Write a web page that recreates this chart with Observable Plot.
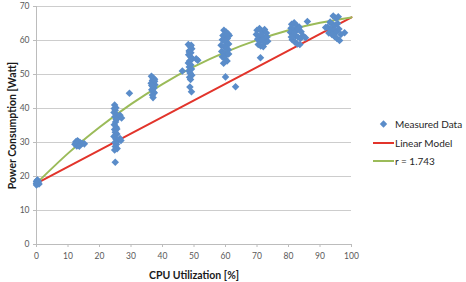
<!DOCTYPE html>
<html>
<head>
<meta charset="utf-8">
<script src="https://cdn.jsdelivr.net/npm/d3@7"></script>
<script src="https://cdn.jsdelivr.net/npm/@observablehq/plot@0.6"></script>
<style>
  body { margin: 0; background: #fff; }
  #chart { position: relative; width: 466px; height: 282px; font-family: Lato, "Open Sans", sans-serif; }
  #chart svg text { font-family: Lato, "Open Sans", sans-serif; }
  g[aria-label="x-axis label"] text,
  g[aria-label="y-axis label"] text { fill: #1a1a1a; font-weight: bold; font-size: 10.5px; }
  .legend { position: absolute; left: 373px; top: 115px; font-size: 10px; color: #262626; }
  .legend .row { display: flex; align-items: center; height: 18.5px; }
  .legend svg { width: 21px; height: 10px; margin-right: 1px; }
</style>
</head>
<body>
<div id="chart"></div>
<script>
// Measured power draw of the server at different CPU utilization levels
const cpu = [
  0, 0, 0, 0.3, 0.5, 0.8, 0.2, 0.6, 0,
  12.2, 12.5, 12.8, 13.0, 13.2, 13.5, 13.8, 14.0, 12.6, 13.3, 15.2, 14.5, 13.6,
  24.8, 25.2, 25.0, 24.6, 25.4, 24.9, 25.6, 26.5, 27.0, 25.1, 24.7, 25.3, 24.8, 25.0, 25.5, 24.6, 25.2, 25.8, 26.5, 26.8, 24.9, 25.4, 25.0, 25.6, 24.8, 25.0, 25.3, 24.7, 25.5,
  29.5,
  36.5, 37.0, 37.5, 36.8, 37.2, 36.4, 37.6, 36.9, 37.3, 36.6, 37.0, 37.4, 36.8, 37.0, 37.5, 36.6,
  46.3,
  48.2, 48.8, 49.3, 48.5, 49.0, 48.3, 48.9, 49.4, 48.6, 48.2, 49.0, 48.5, 49.2, 48.4, 48.8, 49.3, 48.6, 48.9, 48.7, 49.2, 50.7, 51.2, 48.5, 49.1,
  59.5, 60.2, 60.8, 59.2, 60.0, 60.6, 59.0, 59.8, 60.4, 61.0, 58.6, 59.6, 60.2, 60.9, 58.8, 59.5, 60.3, 59.0, 59.8, 60.5, 59.4, 60.0, 63.2, 61.2, 61.0,
  70.0, 70.8, 71.6, 72.4, 73.0, 69.8, 70.6, 71.4, 72.2, 73.2, 70.2, 71.0, 71.8, 72.6, 70.4, 71.2, 72.0, 73.4, 71.1,
  81.0, 81.8, 82.6, 83.4, 80.8, 81.6, 82.4, 83.2, 84.0, 80.6, 81.4, 82.2, 83.0, 83.8, 84.6, 81.2, 82.0, 82.8, 85.4, 86.0, 80.9, 83.6,
  94.2, 95.0, 95.8, 93.2, 94.0, 94.8, 95.6, 92.4, 93.4, 94.4, 95.2, 96.0, 92.8, 93.8, 94.6, 95.4, 96.2, 97.8, 91.8, 96.6
];
const power = [
  17.5, 18.0, 18.5, 19.0, 18.2, 17.8, 18.8, 18.6, 17.9,
  29.5, 30.2, 29.0, 30.5, 29.8, 29.2, 30.0, 29.6, 29.9, 30.3, 29.6, 29.8, 28.9,
  41.0, 40.2, 39.5, 38.8, 38.2, 37.6, 37.0, 38.0, 37.2, 36.0, 35.2, 34.5, 33.8, 33.0, 32.5, 31.8, 31.0, 30.5, 31.2, 30.6, 30.0, 29.5, 28.8, 28.2, 27.8, 24.2, 36.8, 40.0, 34.0,
  44.5,
  49.5, 49.0, 48.6, 48.2, 47.8, 47.4, 47.0, 46.5, 46.0, 45.5, 45.0, 44.6, 44.0, 43.2, 48.0, 46.8,
  51.0,
  58.8, 58.2, 57.6, 57.0, 56.4, 55.8, 55.2, 54.6, 54.0, 53.4, 52.8, 52.2, 51.6, 51.0, 50.4, 49.8, 49.2, 48.5, 46.3, 44.9, 54.6, 54.2, 56.6, 58.6,
  63.0, 62.5, 62.0, 61.5, 61.0, 60.6, 60.2, 59.8, 59.4, 59.0, 58.6, 58.2, 57.8, 57.3, 56.8, 56.3, 55.8, 55.2, 54.6, 54.0, 53.3, 49.3, 46.4, 61.5, 56.0,
  63.0, 63.5, 62.6, 63.2, 62.2, 61.8, 61.2, 61.6, 60.8, 61.0, 60.4, 59.8, 60.0, 59.4, 58.8, 58.4, 58.2, 59.8, 54.9,
  64.8, 65.2, 64.4, 64.0, 63.6, 63.2, 62.8, 63.4, 62.6, 62.4, 61.8, 61.4, 61.0, 60.6, 61.4, 60.2, 59.6, 59.0, 60.8, 65.6, 61.0, 58.8,
  67.2, 66.6, 67.0, 65.4, 64.8, 64.4, 65.0, 64.0, 63.4, 63.0, 62.6, 63.4, 62.2, 61.8, 61.2, 60.6, 60.0, 62.3, 63.8, 61.8
];

// Linear model: straight line between idle and full-load power
const linearCpu = [0, 100];
const linearPower = [18.0, 66.8];

// Non-linear model (r = 1.743), read at every 10 %
const curveCpu = [0, 10, 20, 30, 40, 50, 60, 70, 80, 90, 100];
const curvePower = [18.0, 26.8, 34.5, 41.3, 47.2, 52.3, 56.6, 60.1, 63.0, 65.2, 66.8];

const xTicks = [0, 10, 20, 30, 40, 50, 60, 70, 80, 90, 100];
const yTicks = [0, 10, 20, 30, 40, 50, 60, 70];

const measured = cpu.map((c, i) => ({cpu: c, power: power[i]}));
const linear = linearCpu.map((c, i) => ({cpu: c, power: linearPower[i]}));
const curve = curveCpu.map((c, i) => ({cpu: c, power: curvePower[i]}));

const axisGray = "#bcbcbc";
const blue = "#5a8cc9";
const red = "#e2342b";
const green = "#9bbb59";

const chart = Plot.plot({
  width: 466,
  height: 282,
  marginLeft: 36,
  marginRight: 115,
  marginTop: 6,
  marginBottom: 38,
  style: {fontFamily: "Lato, 'Open Sans', sans-serif", fontSize: "8.5px", color: "#595959", background: "#fff"},
  x: {domain: [0, 100]},
  y: {domain: [0, 70]},
  marks: [
    Plot.gridY(yTicks, {stroke: "#cdcdcd", strokeOpacity: 1}),
    Plot.ruleX([0], {stroke: axisGray}),
    Plot.ruleY([0], {stroke: axisGray}),
    Plot.axisY(yTicks, {
      tickSize: 3, tickPadding: 4, stroke: axisGray,
      label: "Power Consumption [Watt]", labelAnchor: "center", labelArrow: "none", labelOffset: 28
    }),
    Plot.axisX(xTicks, {
      tickSize: 3, tickPadding: 5, stroke: axisGray,
      label: "CPU Utilization [%]", labelAnchor: "center", labelArrow: "none", labelOffset: 34
    }),
    Plot.line(linear, {x: "cpu", y: "power", stroke: red, strokeWidth: 2}),
    Plot.line(curve, {x: "cpu", y: "power", curve: "natural", stroke: green, strokeWidth: 2}),
    Plot.dot(measured, {x: "cpu", y: "power", symbol: "diamond2", r: 3.4, fill: blue, stroke: "none"})
  ]
});

const root = document.getElementById("chart");
root.appendChild(chart);

// Legend to the right of the plot area
const legend = document.createElement("div");
legend.className = "legend";
legend.innerHTML = `
  <div class="row"><svg viewBox="0 0 21 10"><path d="M10.5,1.3 L14.2,5 L10.5,8.7 L6.8,5 Z" fill="${blue}"/></svg><span>Measured Data</span></div>
  <div class="row"><svg viewBox="0 0 21 10"><line x1="0" x2="21" y1="5" y2="5" stroke="${red}" stroke-width="2"/></svg><span>Linear Model</span></div>
  <div class="row"><svg viewBox="0 0 21 10"><line x1="0" x2="21" y1="5" y2="5" stroke="${green}" stroke-width="2"/></svg><span>r = 1.743</span></div>`;
root.appendChild(legend);
</script>
</body>
</html>
